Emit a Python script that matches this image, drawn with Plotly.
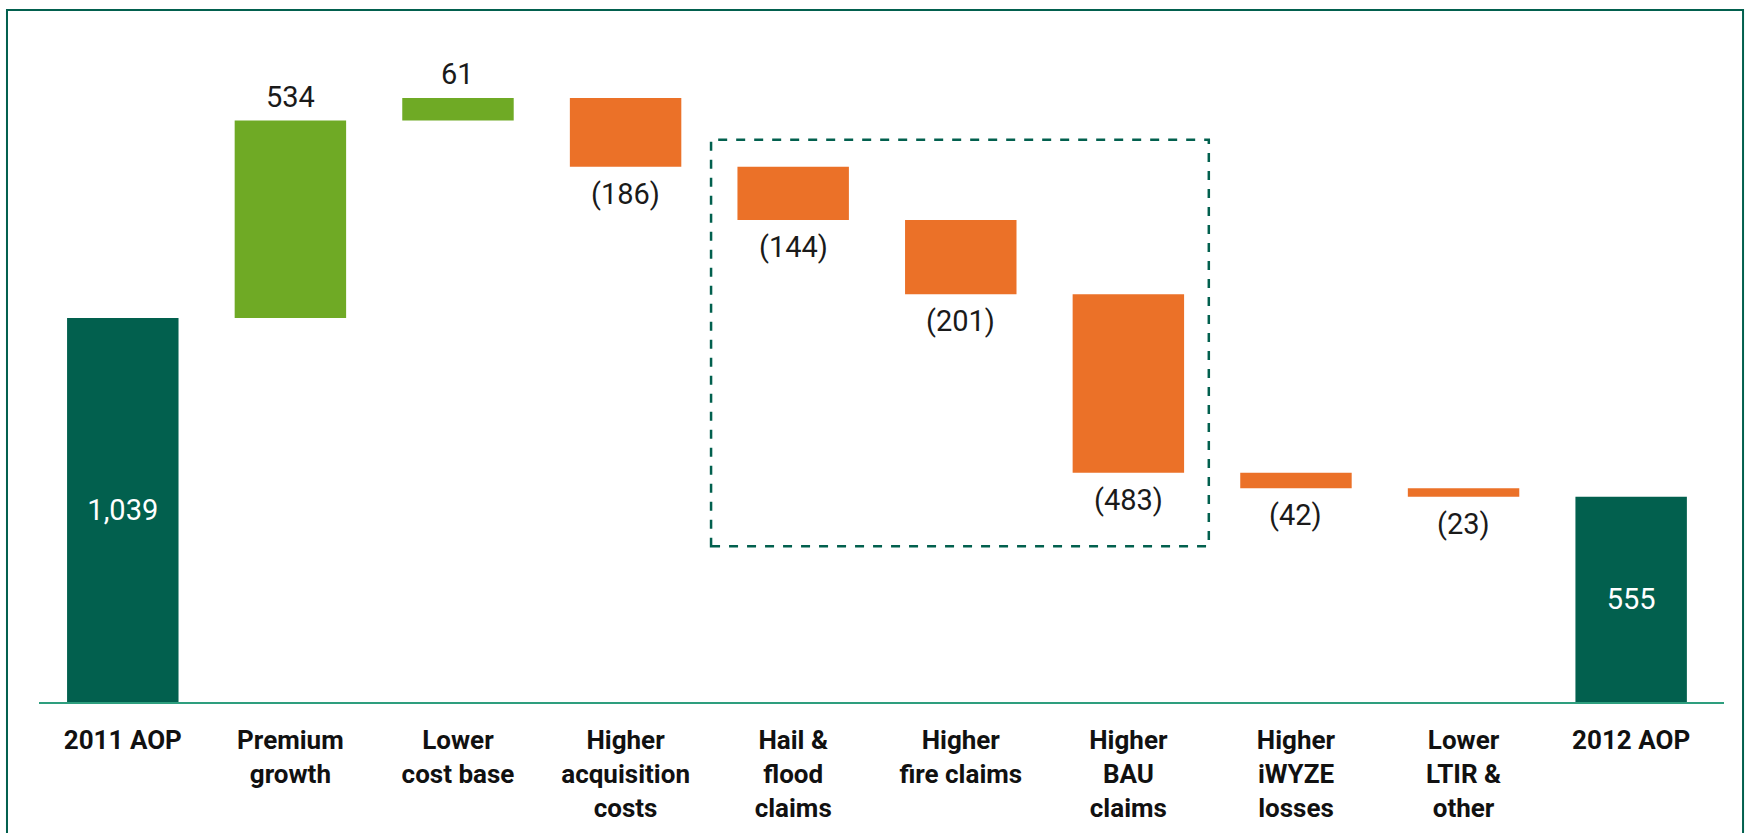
import plotly.graph_objects as go

categories = ["2011 AOP", "Premium<br>growth", "Lower<br>cost base", "Higher<br>acquisition<br>costs",
              "Hail &<br>flood<br>claims", "Higher<br>fire claims", "Higher<br>BAU<br>claims",
              "Higher<br>iWYZE<br>losses", "Lower<br>LTIR &<br>other", "2012 AOP"]
measures = ["absolute", "relative", "relative", "relative", "relative", "relative",
            "relative", "relative", "relative", "total"]
values = [1039, 534, 61, -186, -144, -201, -483, -42, -23, 555]

def fmt(v):
    s = f"{abs(v):,}"
    return f"({s})" if v < 0 else s

texts = [fmt(v) for v in values]
inside_texts = [t if m != "relative" else "" for t, m in zip(texts, measures)]

DARK = "#02604E"
GREEN = "#6FAA25"
ORANGE = "#EB7128"
AXIS = "#2E9E7E"
FONT = "Roboto"

fig = go.Figure(go.Waterfall(
    x=list(range(len(categories))),
    y=values,
    measure=measures,
    text=inside_texts,
    textposition="inside",
    insidetextanchor="middle",
    insidetextfont=dict(family=FONT, size=29, color="white"),
    increasing=dict(marker=dict(color=GREEN)),
    decreasing=dict(marker=dict(color=ORANGE)),
    totals=dict(marker=dict(color=DARK)),
    connector=dict(visible=False),
    width=0.665,
    cliponaxis=False,
    textangle=0,
    hoverinfo="skip",
))

# labels for the relative steps, placed at each bar's outer end
annotations = []
running = 0
for i, (m, v, t) in enumerate(zip(measures, values, texts)):
    if m == "absolute":
        running = v
        continue
    if m == "total":
        continue
    running += v
    annotations.append(dict(
        x=i, y=running, xref="x", yref="y", text=t, showarrow=False,
        yanchor="middle", yshift=24 if v > 0 else -27,
        font=dict(family=FONT, size=29, color="#1a1a1a"),
    ))

fig.update_layout(
    width=1746, height=833,
    margin=dict(l=39, r=22, t=10, b=131),
    paper_bgcolor="white", plot_bgcolor="white",
    showlegend=False,
    annotations=annotations,
    xaxis=dict(
        range=[-0.5, 9.554],
        tickvals=list(range(len(categories))),
        ticktext=[f"<b>{c}</b>" for c in categories],
        tickfont=dict(family=FONT, size=26, color="#111111"),
        showline=True, linecolor=AXIS, linewidth=2,
        showgrid=False, zeroline=False, ticks="",
        ticklabelstandoff=14,
    ),
    yaxis=dict(range=[0, 1872], visible=False, showgrid=False, zeroline=False),
    shapes=[
        dict(type="rect", xref="paper", yref="paper",
             x0=-0.019, x1=1.0113, y0=-0.3, y1=1.0,
             line=dict(color=DARK, width=2), fillcolor="rgba(0,0,0,0)", layer="below"),
        dict(type="rect", xref="x", yref="y",
             x0=3.51, x1=6.48, y0=421, y1=1521,
             line=dict(color=DARK, width=2.5, dash="dash"), fillcolor="rgba(0,0,0,0)"),
    ],
)

fig.write_html("out.html", config={"displayModeBar": False},
               post_script="document.body.style.margin='0';")
